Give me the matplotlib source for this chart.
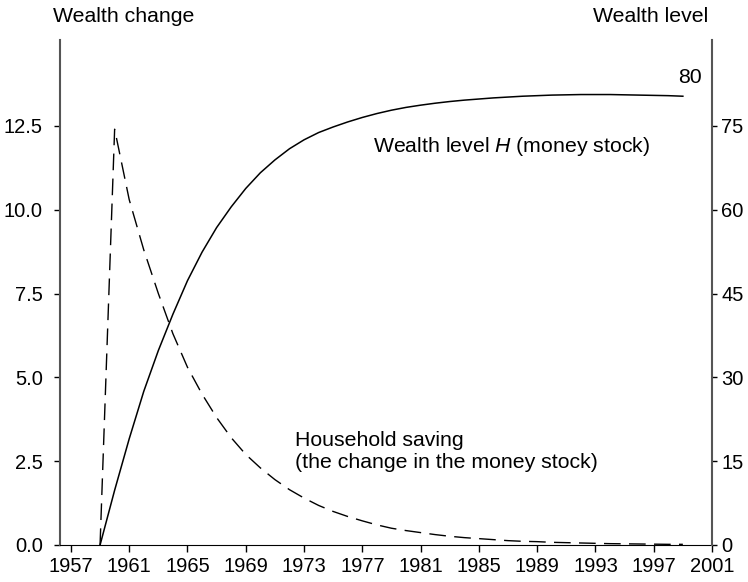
import matplotlib
matplotlib.use("Agg")
import matplotlib.pyplot as plt

plt.rcParams['font.family'] = ['Liberation Sans', 'DejaVu Sans']
plt.rcParams['mathtext.fontset'] = 'custom'
plt.rcParams['mathtext.it'] = 'Liberation Sans:italic'

# valori (annuali)
years = list(range(1959, 2000))
saving = [0.0, 12.4, 10.3, 8.8, 7.5, 6.3, 5.3, 4.5, 3.8, 3.2,
          2.7, 2.3, 1.95, 1.65, 1.4, 1.18, 1.0, 0.85, 0.72, 0.6,
          0.5, 0.43, 0.37, 0.31, 0.26, 0.22, 0.19, 0.16, 0.13, 0.11,
          0.1, 0.08, 0.07, 0.06, 0.05, 0.04, 0.035, 0.03, 0.025, 0.02,
          0.02]
wealth = [0.0, 9.8, 19.0, 27.5, 34.8, 41.3, 47.3, 52.4, 56.8, 60.5,
          63.8, 66.6, 68.9, 70.9, 72.5, 73.8, 74.8, 75.7, 76.5, 77.2,
          77.8, 78.3, 78.7, 79.05, 79.35, 79.6, 79.8, 80.0, 80.15, 80.3,
          80.4, 80.5, 80.55, 80.6, 80.6, 80.6, 80.55, 80.5, 80.45, 80.4,
          80.3]
xticks = list(range(1957, 2002, 4))
left_ticks = [0.0, 2.5, 5.0, 7.5, 10.0, 12.5]
right_ticks = [0, 15, 30, 45, 60, 75]

fig = plt.figure(figsize=(7.48, 5.82), dpi=100)
ax = fig.add_axes([60 / 748, 1 - 545 / 582, 652 / 748, 505 / 582])
ax2 = ax.twinx()

ax.plot(years, saving, color='black', lw=1.0, dashes=(12, 6))
ax2.plot(years, wealth, color='black', lw=1.1)

ax.set_xlim(1956.25, 2001)
ax.set_ylim(0, 15.06)
ax2.set_ylim(0, 90.36)

ax.set_xticks(xticks)
ax.set_yticks(left_ticks)
ax.set_yticklabels(['%.1f' % v for v in left_ticks])
ax2.set_yticks(right_ticks)

for a in (ax, ax2):
    a.spines['top'].set_visible(False)
    a.tick_params(labelsize=14.5, colors='black', width=1.0)
ax.tick_params(axis='y', length=4.5, pad=8)
ax.tick_params(axis='x', length=5, pad=4)
ax2.tick_params(axis='y', length=3.5, pad=3)
ax.spines['left'].set_color('#555555')
ax.spines['right'].set_visible(False)
ax2.spines['left'].set_visible(False)
ax2.spines['right'].set_color('#555555')
ax2.spines['bottom'].set_visible(False)
ax.spines['left'].set_linewidth(1.5)
ax2.spines['right'].set_linewidth(1.5)

fig.text(53 / 748, 1 - 16 / 582, 'Wealth change', fontsize=15.3, ha='left', va='center')
fig.text(708 / 748, 1 - 16 / 582, 'Wealth level', fontsize=15.3, ha='right', va='center')

ax2.text(1999.5, 82.0, '80', fontsize=15.3, ha='center', va='bottom')
ax2.text(1977.7, 71.3, 'Wealth level $\\mathit{H}$ (money stock)', fontsize=15.3,
         ha='left', va='center')
ax.text(1972.4, 2.79, 'Household saving\n(the change in the money stock)', fontsize=15.3,
        ha='left', va='center', linespacing=1.15)

fig.savefig('out.png', dpi=100)
